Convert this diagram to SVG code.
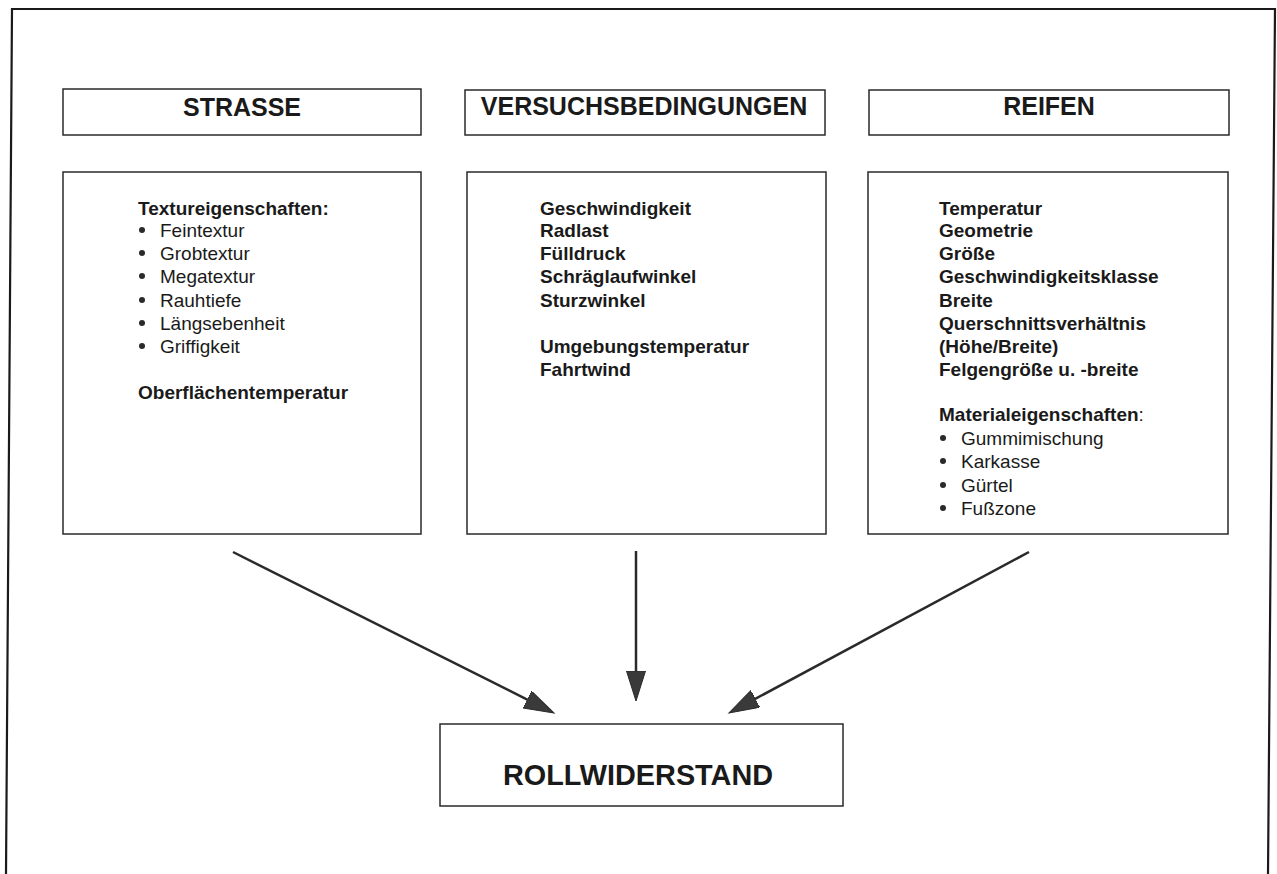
<svg xmlns="http://www.w3.org/2000/svg" width="1277" height="874" viewBox="0 0 1277 874">
<defs>
<style>
.box{fill:none;stroke:#2a2a2a;stroke-width:1.5}
.frame{fill:none;stroke:#1a1a1a;stroke-width:2.2}
.hdr{font-family:"Liberation Sans",Arial,sans-serif;font-size:25px;font-weight:bold;fill:#1a1a1a;text-anchor:middle}
.b{font-family:"Liberation Sans",Arial,sans-serif;font-size:19px;font-weight:bold;fill:#1a1a1a}
.r{font-family:"Liberation Sans",Arial,sans-serif;font-size:19px;fill:#1a1a1a}
.bul{fill:#2a2a2a}
.con{stroke:#2a2a2a;stroke-width:2.5;fill:none;marker-end:url(#ah)}
</style>
<marker id="ah" markerUnits="userSpaceOnUse" markerWidth="32" markerHeight="20" refX="15" refY="9.5" orient="auto">
<path d="M0,0 L30,9.5 L0,19 Z" fill="#3a3a3a" stroke="#2a2a2a" stroke-width="1"/>
</marker>
</defs>
<rect width="1277" height="874" fill="#ffffff"/>
<path class="frame" d="M6,874 L12,9 L1275,9 L1268,874"/>

<g id="strasse-header">
<rect class="box" x="63" y="89" width="358" height="46"/>
<text class="hdr" x="242" y="116">STRASSE</text>
</g>
<g id="versuch-header">
<rect class="box" x="465" y="90" width="360" height="45"/>
<text class="hdr" x="644" y="115">VERSUCHSBEDINGUNGEN</text>
</g>
<g id="reifen-header">
<rect class="box" x="869" y="90" width="360" height="45"/>
<text class="hdr" x="1049" y="115">REIFEN</text>
</g>

<g id="strasse-box">
<rect class="box" x="63" y="172" width="358" height="362"/>
<text class="b" x="138" y="215">Textureigenschaften:</text>
<circle class="bul" cx="142" cy="230" r="3"/><text class="r" x="160" y="237">Feintextur</text>
<circle class="bul" cx="142" cy="253" r="3"/><text class="r" x="160" y="260">Grobtextur</text>
<circle class="bul" cx="142" cy="276" r="3"/><text class="r" x="160" y="283">Megatextur</text>
<circle class="bul" cx="142" cy="300" r="3"/><text class="r" x="160" y="307">Rauhtiefe</text>
<circle class="bul" cx="142" cy="323" r="3"/><text class="r" x="160" y="330">Längsebenheit</text>
<circle class="bul" cx="142" cy="346" r="3"/><text class="r" x="160" y="353">Griffigkeit</text>
<text class="b" x="138" y="399">Oberflächentemperatur</text>
</g>

<g id="versuch-box">
<rect class="box" x="467" y="172" width="359" height="362"/>
<text class="b" x="540" y="215">Geschwindigkeit</text>
<text class="b" x="540" y="237">Radlast</text>
<text class="b" x="540" y="260">Fülldruck</text>
<text class="b" x="540" y="283">Schräglaufwinkel</text>
<text class="b" x="540" y="307">Sturzwinkel</text>
<text class="b" x="540" y="353">Umgebungstemperatur</text>
<text class="b" x="540" y="376">Fahrtwind</text>
</g>

<g id="reifen-box">
<rect class="box" x="868" y="172" width="360" height="362"/>
<text class="b" x="939" y="215">Temperatur</text>
<text class="b" x="939" y="237">Geometrie</text>
<text class="b" x="939" y="260">Größe</text>
<text class="b" x="939" y="283">Geschwindigkeitsklasse</text>
<text class="b" x="939" y="307">Breite</text>
<text class="b" x="939" y="330">Querschnittsverhältnis</text>
<text class="b" x="939" y="353">(Höhe/Breite)</text>
<text class="b" x="939" y="376">Felgengröße u. -breite</text>
<text x="939" y="421"><tspan class="b">Materialeigenschaften</tspan><tspan class="r">:</tspan></text>
<circle class="bul" cx="943" cy="438" r="3"/><text class="r" x="961" y="445">Gummimischung</text>
<circle class="bul" cx="943" cy="461" r="3"/><text class="r" x="961" y="468">Karkasse</text>
<circle class="bul" cx="943" cy="485" r="3"/><text class="r" x="961" y="492">Gürtel</text>
<circle class="bul" cx="943" cy="508" r="3"/><text class="r" x="961" y="515">Fußzone</text>
</g>

<g id="rollwiderstand">
<rect class="box" x="440" y="724" width="403" height="82"/>
<text class="hdr" x="638" y="785" style="font-size:30px" textLength="270" lengthAdjust="spacingAndGlyphs">ROLLWIDERSTAND</text>
</g>

<g id="connectors">
<line class="con" x1="233" y1="552" x2="540.6" y2="706.3"/>
<line class="con" x1="636" y1="551" x2="636" y2="686"/>
<line class="con" x1="1029" y1="552" x2="742.2" y2="705.9"/>
</g>
</svg>
